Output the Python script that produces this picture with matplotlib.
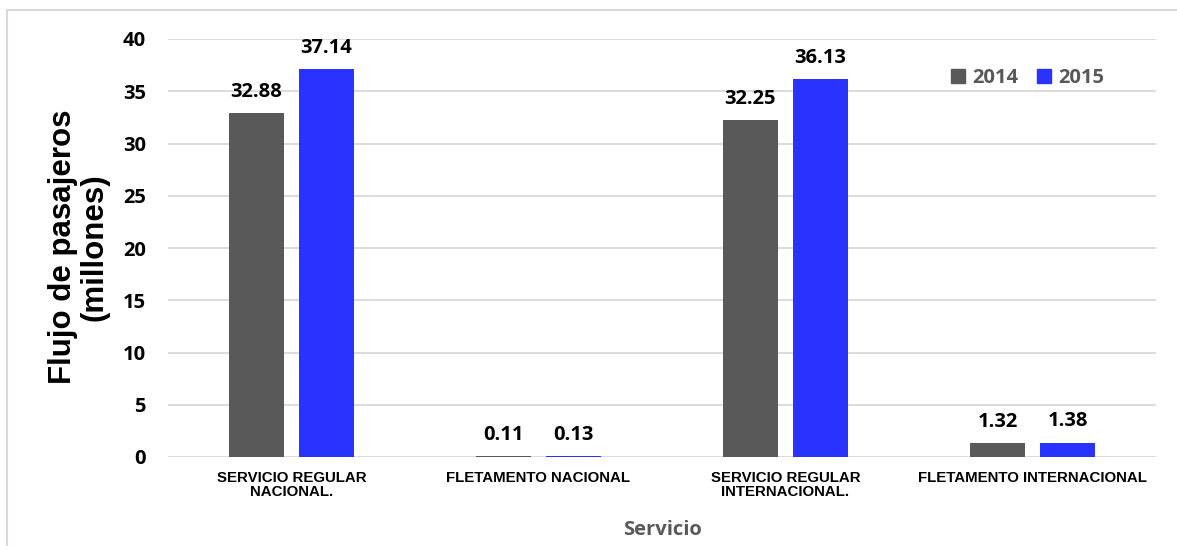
import numpy as np
import matplotlib.pyplot as plt
from matplotlib.lines import Line2D

categorias = ["SERVICIO REGULAR\nNACIONAL.", "FLETAMENTO NACIONAL",
              "SERVICIO REGULAR\nINTERNACIONAL.", "FLETAMENTO INTERNACIONAL"]
pasajeros_2014 = [32.88, 0.11, 32.25, 1.32]
pasajeros_2015 = [37.14, 0.13, 36.13, 1.38]
anios = ["2014", "2015"]

color_2014 = "#595959"
color_2015 = "#2a32ff"

W, H = 1177, 546
fig = plt.figure(figsize=(W / 100, H / 100), dpi=100)
ax = fig.add_axes([168 / W, 1 - 457 / H, (1156 - 168) / W, (457 - 39) / H])

x = np.arange(len(categorias))
ancho = 0.223
desp = 0.142
b1 = ax.bar(x - desp, pasajeros_2014, ancho, color=color_2014, zorder=3)
b2 = ax.bar(x + desp, pasajeros_2015, ancho, color=color_2015, zorder=3)

fuente_num = ["Open Sans", "DejaVu Sans"]
for barras, vals in ((b1, pasajeros_2014), (b2, pasajeros_2015)):
    for r, v in zip(barras, vals):
        ax.annotate(f"{v:.2f}", (r.get_x() + r.get_width() / 2, v),
                    xytext=(0, 8), textcoords="offset points",
                    ha="center", va="bottom", color="black",
                    family=fuente_num, fontweight="bold", fontsize=14.5)

ax.set_xlim(-0.5, 3.5)
ax.set_ylim(0, 40)
ax.set_yticks(range(0, 41, 5))
ax.grid(axis="y", color="#d9d9d9", linewidth=1.3, zorder=0)
ax.tick_params(length=0)
ax.tick_params(axis="y", pad=16)
ax.tick_params(axis="x", pad=10)
for s in ax.spines.values():
    s.set_visible(False)

for lab in ax.get_yticklabels():
    lab.set_fontfamily(fuente_num)
    lab.set_fontweight("bold")
    lab.set_fontsize(14.5)

ax.set_xticks(x)
ax.set_xticklabels(categorias, fontfamily="Liberation Sans", fontweight="bold",
                   fontsize=10.8, linespacing=1.0)

ax.set_xlabel("Servicio", family=fuente_num, fontweight="bold",
              fontsize=14.5, color="#595959", labelpad=15)
fig.text(79 / W, 1 - 247 / H, "Flujo de pasajeros\n(millones)", rotation=90,
         ha="center", va="center", fontfamily="Liberation Sans",
         fontweight="bold", fontsize=22.5, linespacing=1.05)

handles = [Line2D([], [], marker="s", linestyle="none", markersize=10,
                  color=c) for c in (color_2014, color_2015)]
leg = ax.legend(handles, anios, loc="upper right", bbox_to_anchor=(0.966, 0.975),
                ncol=2, frameon=False, handletextpad=0.2, columnspacing=0.8,
                handlelength=1.0,
                prop=dict(family=fuente_num, weight="bold", size=14.5))
for t in leg.get_texts():
    t.set_color("#595959")

# marco exterior (solo borde superior e izquierdo)
fig.add_artist(Line2D([7 / W, 7 / W], [0, 1 - 10 / H], color="#d9d9d9", linewidth=1.5))
fig.add_artist(Line2D([7 / W, 1], [1 - 10 / H, 1 - 10 / H], color="#d9d9d9", linewidth=1.5))

fig.savefig("out.png", dpi=100)
